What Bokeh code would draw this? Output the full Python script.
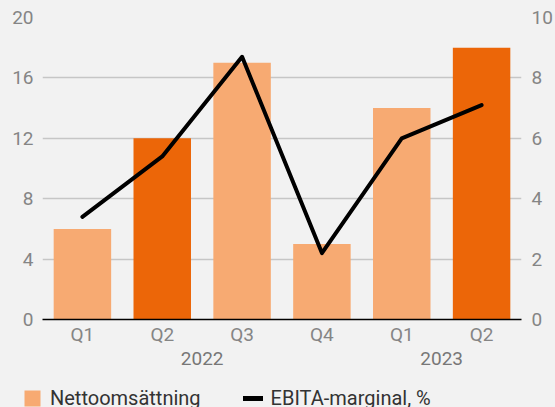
from bokeh.plotting import figure
from bokeh.models import FactorRange, Range1d, LinearAxis, Legend, LegendItem, ColumnDataSource, FixedTicker
from bokeh.embed import file_html
from bokeh.resources import INLINE

years = ["2022", "2022", "2022", "2022", "2023", "2023"]
quarters = ["Q1", "Q2", "Q3", "Q4", "Q1", "Q2"]
nettoomsattning = [6, 12, 17, 5, 14, 18]
ebita_marginal = [3.4, 5.4, 8.7, 2.2, 6.0, 7.1]
bar_colors = ["#f7aa72", "#ec6608", "#f7aa72", "#f7aa72", "#f7aa72", "#ec6608"]
left_ticks = [0, 4, 8, 12, 16, 20]
right_ticks = [0, 2, 4, 6, 8, 10]
legend_labels = ["Nettoomsättning", "EBITA-marginal, %"]

factors = list(zip(years, quarters))
src = ColumnDataSource(dict(x=factors, y=nettoomsattning, m=ebita_marginal, c=bar_colors))

BG = "#f2f2f2"
FONT = "Roboto"
TICK_COLOR = "#858585"
LIGHT = "#f7aa72"

p = figure(width=555, height=378, output_backend="svg", toolbar_location=None,
           x_range=FactorRange(*factors, range_padding=0, group_padding=0, factor_padding=0),
           y_range=Range1d(0, 20),
           background_fill_color=BG, border_fill_color=BG, outline_line_color=None,
           min_border_left=42, min_border_right=32, min_border_top=17, min_border_bottom=59)
p.extra_y_ranges = {"m": Range1d(0, 10)}

bars = p.vbar(x="x", top="y", width=0.72, source=src, fill_color="c", line_color=None)
line = p.line(x="x", y="m", source=src, y_range_name="m", line_color="black", line_width=4,
              line_join="round", line_cap="round")

p.xgrid.grid_line_color = None
p.ygrid.grid_line_color = "#c6c6c6"
p.ygrid.grid_line_width = 1.5
p.yaxis.ticker = FixedTicker(ticks=left_ticks)

ax = p.yaxis[0]
ax.axis_line_color = None
ax.major_tick_line_color = None
ax.minor_tick_line_color = None
ax.major_tick_out = 0
ax.minor_tick_out = 0
ax.major_label_text_font = FONT
ax.major_label_text_font_size = "19px"
ax.major_label_text_color = TICK_COLOR
ax.major_label_standoff = 9

rax = LinearAxis(y_range_name="m", ticker=FixedTicker(ticks=right_ticks))
rax.axis_line_color = None
rax.major_tick_line_color = None
rax.minor_tick_line_color = None
rax.major_tick_out = 0
rax.minor_tick_out = 0
rax.major_label_text_font = FONT
rax.major_label_text_font_size = "19px"
rax.major_label_text_color = TICK_COLOR
rax.major_label_standoff = 10
p.add_layout(rax, "right")

xa = p.xaxis[0]
xa.axis_line_color = "black"
xa.axis_line_width = 1.5
xa.major_tick_line_color = None
xa.minor_tick_line_color = None
xa.major_tick_out = 0
xa.minor_tick_out = 0
xa.major_label_text_font = FONT
xa.major_label_text_font_size = "19px"
xa.major_label_text_color = TICK_COLOR
xa.major_label_standoff = 3
xa.group_text_font = FONT
xa.group_text_font_size = "19px"
xa.group_text_color = "#777777"
xa.group_text_font_style = "normal"
xa.separator_line_alpha = 0

# legend strip (separate root, zero-size helper glyphs so the legend can draw its swatches)
lg = figure(width=555, height=29, output_backend="svg", toolbar_location=None,
            x_axis_location=None, y_axis_location=None,
            background_fill_color=BG, border_fill_color=BG, outline_line_color=None,
            min_border=0, min_border_left=0, min_border_right=0, min_border_top=0, min_border_bottom=0,
            x_range=Range1d(0, 1), y_range=Range1d(0, 1))
lg.grid.visible = False
r1 = lg.vbar(x=[0], top=[0], bottom=[0], width=0, fill_color=LIGHT, line_color=None)
r2 = lg.line(x=[0], y=[0], line_color="black", line_width=5, line_cap="round")
legend = Legend(items=[LegendItem(label=legend_labels[0], renderers=[r1], index=0),
                       LegendItem(label=legend_labels[1], renderers=[r2], index=0)],
                orientation="horizontal", location=(22, -3),
                background_fill_alpha=0, border_line_color=None,
                label_text_font=FONT, label_text_font_size="20px", label_text_color="#333333",
                glyph_width=20, glyph_height=20, spacing=42, padding=0, margin=0,
                label_standoff=8)
lg.add_layout(legend, "center")

html = file_html([p, lg], INLINE)
html = html.replace("</head>", "<style>body{background:#f2f2f2;margin:0;}</style></head>")
open("out.html", "w").write(html)
